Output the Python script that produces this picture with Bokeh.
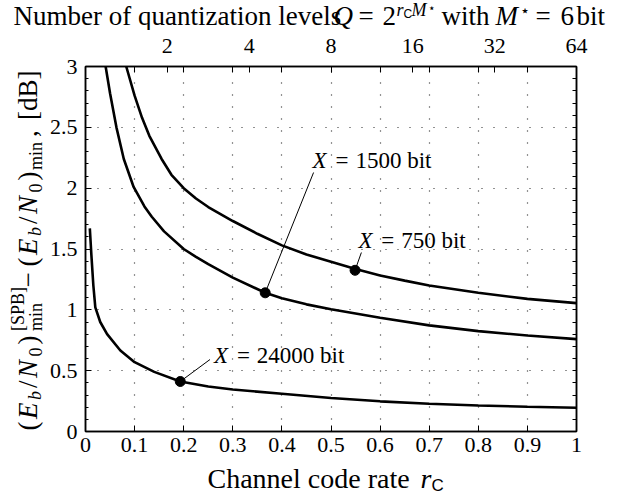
import numpy as np
from bokeh.plotting import figure
from bokeh.models import Range1d, LinearAxis, FixedTicker, Label
from bokeh.layouts import column, row
from bokeh.embed import file_html
from bokeh.resources import INLINE

# ---------------- data ----------------
rc_750 = [0.083, 0.1, 0.115, 0.13, 0.155, 0.175, 0.2, 0.225, 0.25, 0.3, 0.35, 0.4, 0.45, 0.5, 0.55, 0.6, 0.65, 0.7, 0.8, 0.9, 1.0]
eb_750 = [3.0, 2.76, 2.58, 2.43, 2.24, 2.11, 2.0, 1.915, 1.845, 1.73, 1.625, 1.53, 1.455, 1.395, 1.335, 1.283, 1.24, 1.2, 1.14, 1.09, 1.055]

rc_1500 = [0.041, 0.05, 0.063, 0.078, 0.098, 0.12, 0.135, 0.16, 0.2, 0.225, 0.25, 0.3, 0.366, 0.4, 0.45, 0.5, 0.6, 0.7, 0.8, 0.9, 1.0]
eb_1500 = [3.0, 2.78, 2.5, 2.24, 2.01, 1.85, 1.765, 1.645, 1.5, 1.435, 1.375, 1.265, 1.14, 1.095, 1.045, 1.005, 0.935, 0.872, 0.825, 0.789, 0.759]

rc_24000 = [0.0088, 0.012, 0.016, 0.02, 0.03, 0.044, 0.071, 0.1, 0.14, 0.193, 0.25, 0.3, 0.4, 0.5, 0.6, 0.7, 0.8, 0.9, 1.0]
eb_24000 = [1.67, 1.45, 1.2, 1.02, 0.9, 0.8, 0.666, 0.57, 0.49, 0.411, 0.37, 0.345, 0.31, 0.275, 0.248, 0.228, 0.214, 0.204, 0.195]

marker_rc = [0.549, 0.366, 0.193]
marker_eb = [1.325, 1.14, 0.411]
marker_bits = ["750", "1500", "24000"]

x_ticks = [0, 0.1, 0.2, 0.3, 0.4, 0.5, 0.6, 0.7, 0.8, 0.9, 1.0]
x_tick_labels = ["0", "0.1", "0.2", "0.3", "0.4", "0.5", "0.6", "0.7", "0.8", "0.9", "1"]
y_ticks = [0, 0.5, 1.0, 1.5, 2.0, 2.5, 3.0]
y_tick_labels = ["0", "0.5", "1", "1.5", "2", "2.5", "3"]
y_minor = [0.1, 0.2, 0.3, 0.4, 0.6, 0.7, 0.8, 0.9, 1.1, 1.2, 1.3, 1.4, 1.6, 1.7, 1.8, 1.9,
           2.1, 2.2, 2.3, 2.4, 2.6, 2.7, 2.8, 2.9]
q_levels = [2, 4, 8, 16, 32, 64]
m_star = 6

# ---------------- layout (window pixels) ----------------
W, H = 626, 494
TOP_H, BOT_H, LEFT_W = 30, 30, 46
MAIN_W, MAIN_H = W - LEFT_W, H - TOP_H - BOT_H
FL, FR, FT, FB = 83, 576, 66, 431          # plot frame in window pixels
SERIF = "Liberation Serif"
SANS = "Liberation Sans"
SHIFT = 0.29   # rendered alphabetic baseline sits this many em below the anchor


def dx(px):
    return (px - FL) / (FR - FL)


def dy(py):
    return (FB - py) / (FB - FT) * 3.0


p = figure(width=MAIN_W, height=MAIN_H, output_backend="svg", toolbar_location=None,
           title_location=None,
           x_range=Range1d(0, 1), y_range=Range1d(0, 3),
           min_border_left=FL - LEFT_W, min_border_right=W - FR,
           min_border_top=FT - TOP_H, min_border_bottom=TOP_H + MAIN_H - FB)
p.outline_line_color = "black"
p.outline_line_width = 1.5


def style_axis(ax):
    ax.axis_line_color = "black"
    ax.axis_line_width = 1.5
    ax.major_tick_in = 6
    ax.major_tick_out = 0
    ax.minor_tick_in = 3
    ax.minor_tick_out = 0
    ax.major_tick_line_color = "black"
    ax.minor_tick_line_color = "black"
    ax.major_label_text_font = SERIF
    ax.major_label_text_font_size = "22px"
    ax.major_label_text_color = "black"


xa = p.xaxis[0]
xa.ticker = FixedTicker(ticks=x_ticks)
xa.major_label_overrides = {t: s for t, s in zip(x_ticks, x_tick_labels)}
style_axis(xa)
xa.major_label_standoff = 6

ya = p.yaxis[0]
ya.ticker = FixedTicker(ticks=y_ticks, minor_ticks=y_minor)
ya.major_label_overrides = {t: s for t, s in zip(y_ticks, y_tick_labels)}
style_axis(ya)
ya.major_label_standoff = 8

# right axis: mirrored ticks only
ra = LinearAxis(ticker=FixedTicker(ticks=[], minor_ticks=sorted(y_ticks[1:-1] + y_minor)))
style_axis(ra)
ra.minor_tick_in = 4
p.add_layout(ra, "right")

# top axis: quantization levels Q = 2^(rc*M*)
q_pos = [np.log2(q) / m_star for q in q_levels]
ta = LinearAxis(ticker=FixedTicker(ticks=q_pos, minor_ticks=x_ticks[1:-1]))
ta.major_label_overrides = {t: str(q) for t, q in zip(q_pos, q_levels)}
style_axis(ta)
ta.minor_tick_in = 6
ta.major_label_standoff = 14
p.add_layout(ta, "above")

for g in (p.xgrid[0], p.ygrid[0]):
    g.grid_line_color = "black"
    g.grid_line_alpha = 0.85
    g.grid_line_dash = "1 11"
    g.grid_line_width = 1.2
p.xgrid[0].ticker = FixedTicker(ticks=x_ticks[1:-1])
p.ygrid[0].ticker = FixedTicker(ticks=y_ticks[1:-1])

for xs, ys in ((rc_750, eb_750), (rc_1500, eb_1500), (rc_24000, eb_24000)):
    p.line(xs, ys, line_color="black", line_width=2.6)

ann_text_start = [(357, 247), (311, 167), (212, 362)]   # (px, baseline py) window pixels
ann_line_start = [(360, 252), (312, 172), (208, 359)]
for (lx, ly), mx, my in zip(ann_line_start, marker_rc, marker_eb):
    p.line([dx(lx), mx], [dy(ly), my], line_color="black", line_width=1)
p.scatter(marker_rc, marker_eb, size=10, marker="circle", fill_color="black", line_color="black")


def lab(fig, x, y, text, size, italic=False, font=SERIF, angle=0.0):
    fig.add_layout(Label(x=x, y=y, text=text, text_font=font,
                         text_font_style="italic" if italic else "normal",
                         text_font_size=f"{int(size)}px", angle=angle, text_color="black",
                         text_baseline="alphabetic", text_align="left"))


ANN = 23
for (tx, ty), bits in zip(ann_text_start, marker_bits):
    ay = dy(ty - SHIFT * ANN)
    lab(p, dx(tx), ay, "X", ANN, italic=True)
    lab(p, dx(tx + 23), ay, "=", ANN)
    lab(p, dx(tx + 43), ay, bits + " bit", ANN)


def strip(w, h, top_b=0, bot_b=0):
    f = figure(width=w, height=h, output_backend="svg", toolbar_location=None,
               title_location=None,
               x_range=Range1d(0, w), y_range=Range1d(0, h - top_b - bot_b),
               min_border=0, min_border_left=0, min_border_right=0,
               min_border_top=top_b, min_border_bottom=bot_b,
               x_axis_location=None, y_axis_location=None)
    f.grid.visible = False
    f.outline_line_color = None
    return f


top = strip(W, TOP_H)                                          # window y 0..30
left = strip(LEFT_W, MAIN_H, FT - TOP_H, TOP_H + MAIN_H - FB)  # frame window y 66..431
bot = strip(W, BOT_H)                                          # window y 464..494


def tput(wx, base, text, size, italic=False, font=SERIF):
    lab(top, wx, TOP_H - (base - SHIFT * size), text, size, italic, font)


def bput(wx, base, text, size, italic=False, font=SERIF):
    lab(bot, wx, H - (base - SHIFT * size), text, size, italic, font)


def lput(base, wy, text, size, italic=False, font=SERIF):
    lab(left, base - SHIFT * size, FB - wy, text, size, italic, font, angle=np.pi / 2)


# top title
T = 27
tput(13, 23, "Number of quantization levels", T)
tput(333, 23, "Q", T, italic=True)
tput(358, 23, "=", T)
tput(382, 23, "2", T)
tput(396, 14.5, "r", 18, italic=True)
tput(403, 17, "C", 12, font=SANS)
tput(411, 14.5, "M", 18, italic=True)
tput(427, 11, "\u22c6", 12)
tput(441, 23, "with", T)
tput(495, 23, "M", T, italic=True)
tput(519, 15, "\u22c6", 16)
tput(535, 23, "=", T)
tput(560, 23, "6", T)
tput(576, 23, "bit", T)

# bottom title
bput(207, 486, "Channel code rate", 28)
bput(420, 486, "r", 28, italic=True)
bput(431, 490, "C", 17, font=SANS)

# y-axis title, rotated, reading bottom to top: (baseline x, start y)
M, S = 27, 18
lput(35, 430, "(", M)
lput(35, 418.5, "E", M, italic=True)
lput(40, 399.5, "b", S, italic=True)
lput(35, 387.5, "/", M)
lput(35, 377.5, "N", M, italic=True)
lput(40, 356, "0", S)
lput(35, 344, ")", M)
lput(23, 330.5, "[SPB]", S)
lput(41, 330.5, "min", S)
lput(35, 287, "\u2212", M)
lput(35, 266, "(", M)
lput(35, 254.5, "E", M, italic=True)
lput(40, 235.5, "b", S, italic=True)
lput(35, 223.5, "/", M)
lput(35, 213.5, "N", M, italic=True)
lput(40, 192, "0", S)
lput(35, 180, ")", M)
lput(41, 169.5, "min", S)
lput(35, 136.5, ",", M)
lput(35, 119.5, "[dB]", M)

layout = column(top, row(left, p, spacing=0), bot, spacing=0)
open("out.html", "w").write(file_html(layout, INLINE))
